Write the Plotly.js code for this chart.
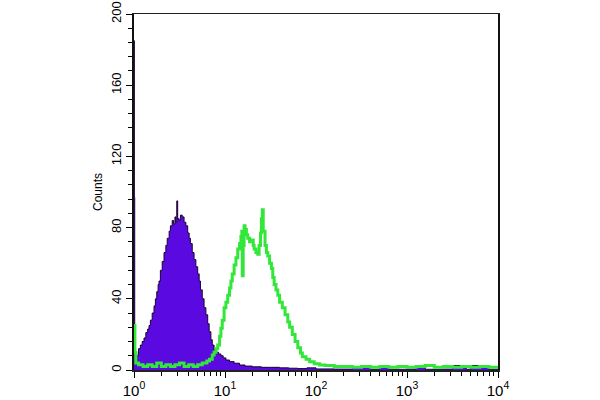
<!DOCTYPE html>
<html><head><meta charset="utf-8">
<script src="https://cdn.plot.ly/plotly-3.0.1.min.js"></script>
<style>html,body{margin:0;padding:0;background:#fff}#chart{width:600px;height:400px}</style>
</head><body><div id="chart"></div>
<script>
// Axis ticks
const xTickVals = [1, 10, 100, 1000, 10000];
const xTickText = ['10<sup>0</sup>', '10<sup>1</sup>', '10<sup>2</sup>', '10<sup>3</sup>', '10<sup>4</sup>'];
const yTickVals = [0, 40, 80, 120, 160, 200];
const yTitle = 'Counts';

// Control (filled purple) histogram: channel as decade exponent, counts
const purpleExp = [0.000,0.004,0.008,0.010,0.030,0.050,0.070,0.090,0.110,0.130,0.150,0.165,0.180,0.200,0.220,0.235,0.250,0.265,0.275,0.290,0.310,0.330,0.350,0.365,0.386,0.400,0.420,0.435,0.450,0.460,0.470,0.480,0.496,0.510,0.530,0.550,0.570,0.590,0.606,0.620,0.640,0.660,0.680,0.700,0.716,0.730,0.750,0.770,0.790,0.810,0.826,0.845,0.860,0.880,0.900,0.930,0.955,0.980,1.010,1.050,1.100,1.160,1.220,1.300,1.400,1.500,1.600,1.700,1.800,1.900,2.000,2.200,2.400,2.600,2.700,2.800,3.000,3.100,3.200,3.400,3.500,3.650,3.700,3.900,4.000];
const purpleCounts = [185,97,12,10,8,12,14,16,18,21,23,25,28,32,36,40,44,48,50,56,61,66,70,74,78,81,84,82,86,83,95,85,84,87,86,83,81,77,74,71,66,62,58,54,50,45,40,35,31,26,21.5,17,14,11.5,10,9,8,6.8,5.6,4.7,3.8,2.8,2.2,1.8,1.5,1.5,1.2,1.0,0.8,1.2,0.6,0.5,1.5,0.4,2.5,0.4,0.5,2.5,0.4,0.5,2.5,0.4,2.5,0.4,0.3];

// Stained (green outline) histogram
const greenExp = [0.000,0.010,0.020,0.050,0.100,0.150,0.200,0.250,0.300,0.350,0.400,0.450,0.500,0.550,0.600,0.650,0.700,0.750,0.800,0.830,0.860,0.880,0.900,0.920,0.940,0.955,0.970,0.990,1.010,1.030,1.050,1.065,1.080,1.100,1.120,1.140,1.160,1.175,1.185,1.190,1.200,1.210,1.220,1.235,1.250,1.270,1.290,1.310,1.320,1.340,1.360,1.375,1.390,1.400,1.410,1.420,1.440,1.455,1.470,1.490,1.510,1.525,1.540,1.560,1.580,1.600,1.630,1.660,1.690,1.710,1.740,1.770,1.800,1.830,1.850,1.890,1.930,1.980,2.040,2.100,2.200,2.300,2.400,2.500,2.600,2.700,2.800,2.900,3.000,3.100,3.200,3.300,3.400,3.500,3.600,3.700,3.800,3.900,4.000];
const greenCounts = [25,10,4,3,2,3,2,4,2,3,2,3,4,2,3,2,3,4,5,6,8.4,10,12,14,19,23.5,28,35,38,42,46,50,54,59,63,68,71,75,78,53,70,81,79,76,74,72,73,70,68,66,65,70,77,85,90,78,70,66,64,60,57,52,48,45,42,38,35,31,27,24,20,16,12.5,9.5,7.5,6,4.7,3.5,2.8,2.5,2,2,1.5,2,1.5,2,1.5,2,1.5,2,2.5,1.5,2,1.5,2,1.5,2,1.5,1];

const toChannel = arr => arr.map(e => Math.pow(10, e));

const traces = [
  {
    x: toChannel(purpleExp), y: purpleCounts, type: 'scatter', mode: 'lines',
    line: {shape: 'hv', color: '#1a0033', width: 1},
    fill: 'tozeroy', fillcolor: '#5a0ae0', hoverinfo: 'skip', showlegend: false
  },
  {
    x: toChannel(greenExp), y: greenCounts, type: 'scatter', mode: 'lines',
    line: {shape: 'hv', color: '#33e63a', width: 3},
    hoverinfo: 'skip', showlegend: false
  }
];

const layout = {
  width: 600, height: 400,
  margin: {l: 134, r: 102, t: 14, b: 30},
  paper_bgcolor: '#ffffff', plot_bgcolor: '#ffffff',
  font: {family: 'Liberation Sans, Arial, sans-serif', color: '#000'},
  xaxis: {
    type: 'log', range: [0, 4], showgrid: false, zeroline: false,
    tickvals: xTickVals, ticktext: xTickText,
    tickfont: {size: 15, color: '#000'},
    ticks: 'outside', ticklen: 6, tickcolor: '#000', tickwidth: 1,
    minor: {dtick: 'D1', ticks: 'outside', ticklen: 4, tickcolor: '#000', showgrid: false},
    showline: true, linecolor: '#222', linewidth: 1.5, mirror: true
  },
  yaxis: {
    range: [0, 200], showgrid: false, zeroline: false,
    tickvals: yTickVals, tickangle: -90,
    tickfont: {size: 13, color: '#000'},
    ticks: 'outside', ticklen: 6, tickcolor: '#000', tickwidth: 1,
    minor: {dtick: 8, ticks: 'outside', ticklen: 4, tickcolor: '#000', showgrid: false},
    showline: true, linecolor: '#111', linewidth: 2, mirror: true,
    title: {text: yTitle, font: {size: 12, color: '#000'}, standoff: 4}
  }
};

Plotly.newPlot('chart', traces, layout, {staticPlot: true, displayModeBar: false});
</script>
</body></html>
